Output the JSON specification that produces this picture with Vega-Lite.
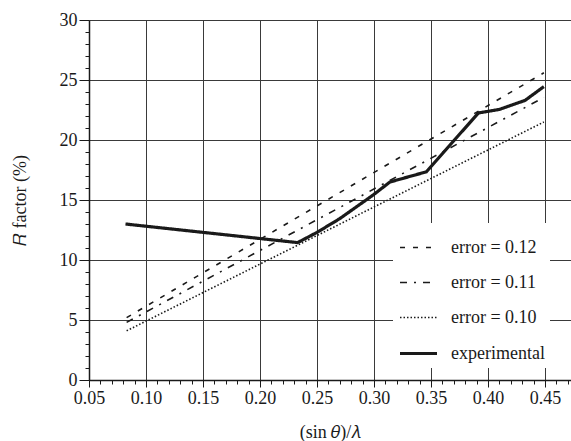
{
  "$schema": "https://vega.github.io/schema/vega-lite/v6.json",
  "autosize": "none",
  "width": 482,
  "height": 360,
  "padding": {"left": 89, "top": 20, "right": 0, "bottom": 61},
  "background": "white",
  "config": {
    "view": {"stroke": null},
    "font": "Liberation Serif",
    "axis": {
      "labelFont": "Liberation Serif",
      "titleFont": "Liberation Serif",
      "labelFontSize": 18,
      "titleFontSize": 18,
      "titleFontWeight": "normal",
      "labelColor": "#1a1a1a",
      "titleColor": "#1a1a1a",
      "domainColor": "#1a1a1a",
      "domainWidth": 1.5,
      "tickColor": "#1a1a1a",
      "gridColor": "#3a3a3a",
      "gridWidth": 1
    },
    "legend": {
      "orient": "none",
      "legendX": 304,
      "legendY": 203,
      "fillColor": "white",
      "padding": 5,
      "symbolType": "stroke",
      "symbolSize": 1369,
      "symbolStrokeColor": "#1a1a1a",
      "labelFont": "Liberation Serif",
      "labelFontSize": 18,
      "labelColor": "#1a1a1a",
      "labelOffset": 12,
      "rowPadding": 6
    }
  },
  "data": {
    "values": [
      {"s": "error = 0.12", "x": 0.083, "y": 5.2},
      {"s": "error = 0.12", "x": 0.449, "y": 25.6},
      {"s": "error = 0.11", "x": 0.083, "y": 4.8},
      {"s": "error = 0.11", "x": 0.449, "y": 23.55},
      {"s": "error = 0.10", "x": 0.083, "y": 4.1},
      {"s": "error = 0.10", "x": 0.449, "y": 21.5},
      {"s": "experimental", "x": 0.082, "y": 13.0},
      {"s": "experimental", "x": 0.233, "y": 11.45},
      {"s": "experimental", "x": 0.25, "y": 12.3},
      {"s": "experimental", "x": 0.27, "y": 13.45},
      {"s": "experimental", "x": 0.299, "y": 15.4},
      {"s": "experimental", "x": 0.314, "y": 16.5},
      {"s": "experimental", "x": 0.346, "y": 17.35},
      {"s": "experimental", "x": 0.3915, "y": 22.25},
      {"s": "experimental", "x": 0.41, "y": 22.55},
      {"s": "experimental", "x": 0.4325, "y": 23.3},
      {"s": "experimental", "x": 0.449, "y": 24.45}
    ]
  },
  "mark": {"type": "line", "color": "#1a1a1a", "strokeCap": "butt", "clip": true},
  "encoding": {
    "x": {
      "field": "x",
      "type": "quantitative",
      "scale": {"domain": [0.05, 0.4728], "nice": false, "zero": false},
      "axis": {
        "title": "(sin 𝜃)/𝜆",
        "values": [0.05,0.06,0.07,0.08,0.09,0.10,0.11,0.12,0.13,0.14,0.15,0.16,0.17,0.18,0.19,0.20,0.21,0.22,0.23,0.24,0.25,0.26,0.27,0.28,0.29,0.30,0.31,0.32,0.33,0.34,0.35,0.36,0.37,0.38,0.39,0.40,0.41,0.42,0.43,0.44,0.45,0.46,0.47],
        "labelExpr": "round(datum.value*100) % 5 === 0 ? format(datum.value, '.2f') : ''",
        "labelOverlap": false,
        "labelFlush": false,
        "labelPadding": 2,
        "tickSize": {"condition": {"test": "round(datum.value*100) % 5 === 0", "value": 7}, "value": 4},
        "gridOpacity": {"condition": {"test": "round(datum.value*100) % 5 === 0", "value": 1}, "value": 0},
        "grid": true,
        "titlePadding": 16
      }
    },
    "y": {
      "field": "y",
      "type": "quantitative",
      "scale": {"domain": [0, 30], "nice": false},
      "axis": {
        "title": "𝑅 factor (%)",
        "values": [0,1,2,3,4,5,6,7,8,9,10,11,12,13,14,15,16,17,18,19,20,21,22,23,24,25,26,27,28,29,30],
        "labelExpr": "datum.value % 5 === 0 ? format(datum.value, 'd') : ''",
        "labelOverlap": false,
        "labelFlush": false,
        "labelPadding": 2,
        "tickSize": {"condition": {"test": "datum.value % 5 === 0", "value": 10}, "value": 4},
        "gridOpacity": {"condition": {"test": "datum.value % 5 === 0", "value": 1}, "value": 0},
        "grid": true,
        "titlePadding": 30
      }
    },
    "strokeDash": {
      "field": "s",
      "type": "nominal",
      "scale": {
        "domain": ["error = 0.12", "error = 0.11", "error = 0.10", "experimental"],
        "range": [[5, 8], [7, 7, 2, 7], [1.5, 2], [1, 0]]
      },
      "legend": {"title": null}
    },
    "strokeWidth": {
      "field": "s",
      "type": "nominal",
      "scale": {
        "type": "ordinal",
        "domain": ["error = 0.12", "error = 0.11", "error = 0.10", "experimental"],
        "range": [1.6, 1.6, 1.6, 3.2]
      },
      "legend": {"title": null}
    }
  }
}
